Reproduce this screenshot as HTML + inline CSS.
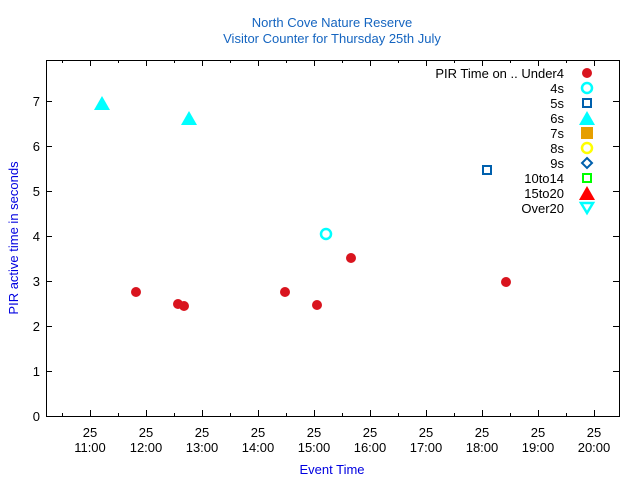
<!DOCTYPE html>
<html><head><style>body{margin:0;background:#fff}svg text{font-family:"Liberation Sans",sans-serif;font-size:13px}</style></head><body>
<svg width="640" height="480" xmlns="http://www.w3.org/2000/svg">
<rect width="640" height="480" fill="#fff"/>
<text x="332" y="27" text-anchor="middle" fill="#1565c0">North Cove Nature Reserve</text>
<text x="332" y="43" text-anchor="middle" fill="#1565c0">Visitor Counter for Thursday 25th July</text>
<rect x="46.5" y="60.5" width="573" height="356" fill="none" stroke="#000"/>
<g stroke="#000">
<path d="M46 371.5h6M46 326.5h6M46 281.5h6M46 236.5h6M46 191.5h6M46 146.5h6M46 101.5h6M619 371.5h-6M619 326.5h-6M619 281.5h-6M619 236.5h-6M619 191.5h-6M619 146.5h-6M619 101.5h-6"/>
<path d="M90.5 416v-6M146.5 416v-6M202.5 416v-6M258.5 416v-6M314.5 416v-6M370.5 416v-6M426.5 416v-6M482.5 416v-6M538.5 416v-6M594.5 416v-6M90.5 60v6M146.5 60v6M202.5 60v6M258.5 60v6M314.5 60v6M370.5 60v6M426.5 60v6M482.5 60v6M538.5 60v6M594.5 60v6"/>
<path d="M62.5 416v-3M118.5 416v-3M174.5 416v-3M230.5 416v-3M286.5 416v-3M342.5 416v-3M398.5 416v-3M454.5 416v-3M510.5 416v-3M566.5 416v-3M62.5 60v3M118.5 60v3M174.5 60v3M230.5 60v3M286.5 60v3M342.5 60v3M398.5 60v3M454.5 60v3M510.5 60v3M566.5 60v3"/>
</g>
<g text-anchor="end"><text x="40" y="421">0</text><text x="40" y="376">1</text><text x="40" y="331">2</text><text x="40" y="286">3</text><text x="40" y="241">4</text><text x="40" y="196">5</text><text x="40" y="151">6</text><text x="40" y="106">7</text></g>
<g text-anchor="middle">
<text x="90" y="437">25</text><text x="90" y="452">11:00</text>
<text x="146" y="437">25</text><text x="146" y="452">12:00</text>
<text x="202" y="437">25</text><text x="202" y="452">13:00</text>
<text x="258" y="437">25</text><text x="258" y="452">14:00</text>
<text x="314" y="437">25</text><text x="314" y="452">15:00</text>
<text x="370" y="437">25</text><text x="370" y="452">16:00</text>
<text x="426" y="437">25</text><text x="426" y="452">17:00</text>
<text x="482" y="437">25</text><text x="482" y="452">18:00</text>
<text x="538" y="437">25</text><text x="538" y="452">19:00</text>
<text x="594" y="437">25</text><text x="594" y="452">20:00</text>
<text x="332" y="474" fill="#0000e0">Event Time</text>
<text transform="translate(18,238) rotate(-90)" fill="#0000e0">PIR active time in seconds</text>
</g>
<g fill="#d9141e">
<circle cx="136" cy="292" r="5"/><circle cx="178" cy="304" r="5"/><circle cx="184" cy="306" r="5"/><circle cx="285" cy="292" r="5"/><circle cx="317" cy="305" r="5"/><circle cx="351" cy="258" r="5"/><circle cx="506" cy="282" r="5"/>
</g>
<circle cx="326" cy="234" r="5" fill="none" stroke="#0ff" stroke-width="2.5"/>
<rect x="483" y="166" width="8" height="8" fill="none" stroke="#0060ad" stroke-width="2"/>
<polygon points="102,96 110,110 94,110" fill="#0ff"/>
<polygon points="189,111 197,125 181,125" fill="#0ff"/>
<g text-anchor="end">
<text x="564" y="78">PIR Time on .. Under4</text><text x="564" y="93">4s</text><text x="564" y="108">5s</text><text x="564" y="123">6s</text><text x="564" y="138">7s</text><text x="564" y="153">8s</text><text x="564" y="168">9s</text><text x="564" y="183">10to14</text><text x="564" y="198">15to20</text><text x="564" y="213">Over20</text>
</g>
<circle cx="587" cy="73" r="5" fill="#d9141e"/>
<circle cx="587" cy="88" r="5" fill="none" stroke="#0ff" stroke-width="2.5"/>
<rect x="583" y="99" width="8" height="8" fill="none" stroke="#0060ad" stroke-width="2"/>
<polygon points="587,111 595,125 579,125" fill="#0ff"/>
<rect x="581" y="127" width="12" height="12" fill="#e69f00"/>
<circle cx="587" cy="148" r="5" fill="none" stroke="#ff0" stroke-width="2.5"/>
<polygon points="587,158 592,163 587,168 582,163" fill="none" stroke="#0060ad" stroke-width="2"/>
<rect x="583" y="174" width="8" height="8" fill="none" stroke="#0f0" stroke-width="2"/>
<polygon points="587,186 595,200 579,200" fill="#f00"/>
<polygon points="581,203 593,203 587,213" fill="none" stroke="#0ff" stroke-width="2.5"/>
</svg>
</body></html>
